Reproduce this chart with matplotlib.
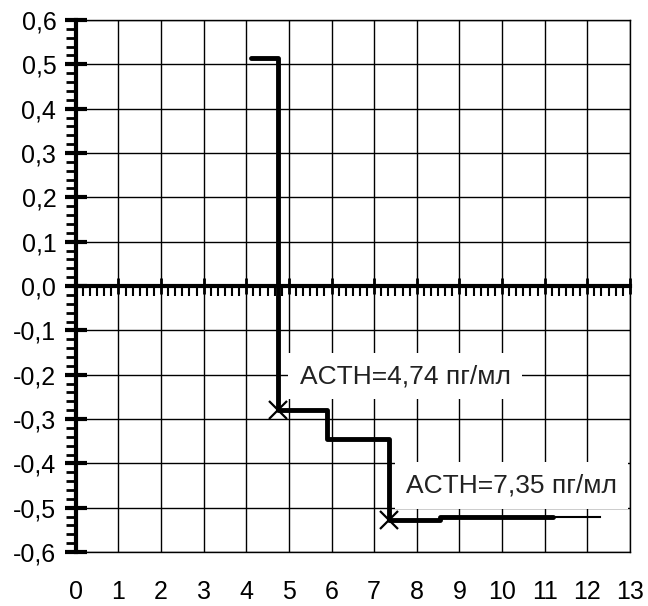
import numpy as np
import matplotlib.pyplot as plt
from matplotlib.ticker import MultipleLocator, FuncFormatter

plt.rcParams['font.family'] = ['Liberation Sans', 'DejaVu Sans']

# step curve breakpoints (steps-post)
step_x = [4.1, 4.74, 5.9, 7.35, 8.55, 11.2]
step_y = [0.515, -0.28, -0.345, -0.528, -0.522, -0.522]
tail_x = [11.2, 12.3]
tail_y = [-0.522, -0.522]
mark_x = [4.74, 7.35]
mark_y = [-0.28, -0.528]
labels = ['ACTH=4,74 пг/мл', 'ACTH=7,35 пг/мл']
label_x = [5.25, 7.74]
label_y = [-0.203, -0.45]

fig = plt.figure(figsize=(6.48, 6.06), dpi=100)
ax = fig.add_axes([0.117, 0.089, 0.855, 0.878])

ax.set_xlim(0, 13)
ax.set_ylim(-0.6, 0.6)
ax.xaxis.set_major_locator(MultipleLocator(1))
ax.yaxis.set_major_locator(MultipleLocator(0.1))
ax.yaxis.set_minor_locator(MultipleLocator(0.02))
ax.yaxis.set_major_formatter(FuncFormatter(lambda v, p: f'{v:.1f}'.replace('.', ',').replace('-0,0', '0,0')))
ax.grid(True, which='major', color='black', lw=1)
ax.set_axisbelow(True)

for s in ['top', 'right', 'bottom']:
    ax.spines[s].set_linewidth(1)
ax.spines['left'].set_linewidth(3)

ax.tick_params(axis='x', which='both', length=0, pad=20, labelsize=18)
ax.tick_params(axis='y', which='major', direction='inout', length=16, width=3, pad=6, labelsize=18)
ax.tick_params(axis='y', which='minor', direction='out', length=7, width=2)

# zero axis with its own ticks
sec = ax.secondary_xaxis(0.5)
sec.spines['top'].set_linewidth(3)
sec.spines['bottom'].set_linewidth(3)
sec.xaxis.set_major_locator(MultipleLocator(1))
sec.xaxis.set_minor_locator(MultipleLocator(1 / 6))
sec.tick_params(axis='x', which='major', direction='inout', length=12, width=2, labeltop=False, labelbottom=False)
sec.tick_params(axis='x', which='minor', direction='in', length=7, width=1.5)

ax.plot(step_x, step_y, drawstyle='steps-post', color='black', lw=3.5,
        solid_joinstyle='round', solid_capstyle='round', zorder=3)
ax.plot(tail_x, tail_y, color='black', lw=1.5, zorder=3)
ax.plot(mark_x, mark_y, 'x', color='black', ms=13, mew=1.6, zorder=4)

for t, x, y in zip(labels, label_x, label_y):
    ax.text(x, y, t, fontsize=19, va='center', ha='left', color='#222222',
            bbox=dict(facecolor='white', edgecolor='none', pad=8), zorder=5)

fig.savefig('out.png', dpi=100)
